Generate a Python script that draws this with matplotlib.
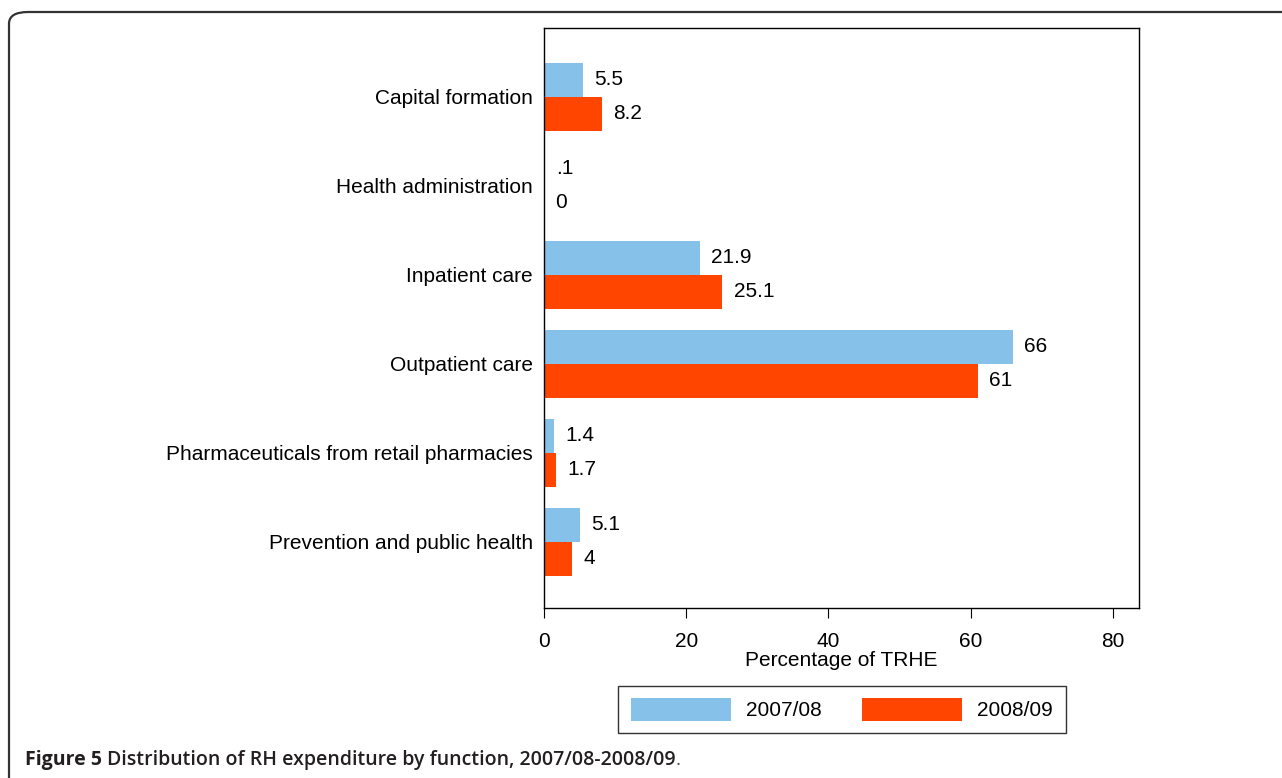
import matplotlib
matplotlib.use("Agg")
from matplotlib import pyplot as plt
from matplotlib.patches import FancyBboxPatch
import numpy as np

plt.rcParams['font.family'] = ['Liberation Sans', 'DejaVu Sans']

categories = ["Capital formation", "Health administration", "Inpatient care",
              "Outpatient care", "Pharmaceuticals from retail pharmacies",
              "Prevention and public health"]
vals_0708 = [5.5, 0.1, 21.9, 66, 1.4, 5.1]
vals_0809 = [8.2, 0, 25.1, 61, 1.7, 4]
labels_0708 = ["5.5", ".1", "21.9", "66", "1.4", "5.1"]
labels_0809 = ["8.2", "0", "25.1", "61", "1.7", "4"]
series_names = ["2007/08", "2008/09"]
blue = "#85C1E9"
red = "#FF4500"

W, H = 1282, 778
fig = plt.figure(figsize=(W / 100, H / 100), dpi=100)

# outer rounded frame (right and bottom edges run off the page)
frame = FancyBboxPatch((9 / W, -40 / H), 1340 / W, 806 / H,
                       boxstyle="round,pad=0,rounding_size=0.015",
                       transform=fig.transFigure, fill=False,
                       edgecolor="#333333", linewidth=1.6)
fig.patches.append(frame)

ax = fig.add_axes([544 / W, 1 - 608 / H, (1139 - 544) / W, (608 - 28) / H])
y = np.arange(len(categories))
h = 0.382
ax.barh(y - h / 2, vals_0708, height=h, color=blue, label=series_names[0])
ax.barh(y + h / 2, vals_0809, height=h, color=red, label=series_names[1])

for yi, v, t in zip(y, vals_0708, labels_0708):
    ax.annotate(t, (v, yi - h / 2), xytext=(8, 0), textcoords="offset points",
                va="center", ha="left", fontsize=15)
for yi, v, t in zip(y, vals_0809, labels_0809):
    ax.annotate(t, (v, yi + h / 2), xytext=(8, 0), textcoords="offset points",
                va="center", ha="left", fontsize=15)

ax.set_yticks(y)
ax.set_yticklabels(categories, fontsize=15)
ax.tick_params(axis="y", length=0, pad=8)
ax.set_xlim(0, 83.7)
ax.set_ylim(len(categories) - 1 + 0.742, -0.775)
ax.set_xticks([0, 20, 40, 60, 80])
ax.tick_params(axis="x", labelsize=15, length=7, direction="out", pad=10)
ax.set_xlabel("Percentage of TRHE", fontsize=15, labelpad=0)
for s in ax.spines.values():
    s.set_linewidth(1.0)

# legend box
fig.legend(loc="center", bbox_to_anchor=(842 / W, 1 - 709.5 / H),
           ncol=2, frameon=True, fancybox=False, edgecolor="black",
           fontsize=15, handlelength=4.8, handleheight=1.3, columnspacing=1.9,
           handletextpad=0.75, borderpad=0.6)

# caption
cap_font = ["Open Sans", "DejaVu Sans"]
t1 = fig.text(25 / W, 1 - 760 / H, "Figure 5 ", fontsize=14, fontweight="bold",
              family=cap_font, va="center", color="#231f20")
fig.canvas.draw()
bb = t1.get_window_extent()
t2 = fig.text(bb.x1 / W, 1 - 760 / H,
              "Distribution of RH expenditure by function, 2007/08-2008/09",
              fontsize=14, family=cap_font, va="center",
              fontweight="semibold", color="#231f20")
fig.canvas.draw()
bb2 = t2.get_window_extent()
fig.text(bb2.x1 / W, 1 - 760 / H, ".", fontsize=14, family=cap_font,
         va="center", color="#555555")

fig.savefig("out.png", dpi=100)
